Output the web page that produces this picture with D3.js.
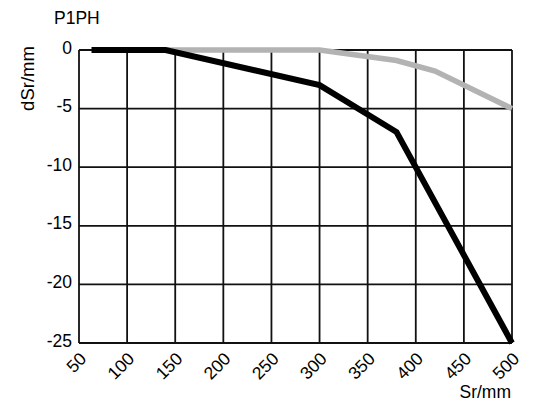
<!DOCTYPE html>
<html>
<head>
<meta charset="utf-8">
<script src="https://cdn.jsdelivr.net/npm/d3@7"></script>
<style>
  body { margin: 0; background: #fff; }
  text { font-family: "Liberation Sans", Arial, sans-serif; }
</style>
</head>
<body>
<div id="chart"></div>
<script>
// values
const xTicks = [50, 100, 150, 200, 250, 300, 350, 400, 450, 500];
const yTicks = [0, -5, -10, -15, -20, -25];
const blackX = [63, 140, 300, 380, 500];
const blackY = [0, 0, -3, -7, -25];
const grayX = [140, 300, 380, 420, 500];
const grayY = [0, 0, -0.9, -1.8, -5];

const W = 538, H = 401;
const margin = {top: 50, right: 26, bottom: 58, left: 79};
const width = W - margin.left - margin.right;
const height = H - margin.top - margin.bottom;

const svg = d3.select("#chart").append("svg")
  .attr("width", W).attr("height", H);
const g = svg.append("g")
  .attr("transform", `translate(${margin.left},${margin.top})`);

const x = d3.scaleLinear().domain([50, 500]).range([0, width]);
const y = d3.scaleLinear().domain([0, -25]).range([0, height]);

// grid
g.append("g").selectAll("line").data(xTicks).enter().append("line")
  .attr("x1", d => x(d)).attr("x2", d => x(d))
  .attr("y1", 0).attr("y2", height)
  .attr("stroke", "#111").attr("stroke-width", 1.8);
g.append("g").selectAll("line").data(yTicks).enter().append("line")
  .attr("x1", 0).attr("x2", width)
  .attr("y1", d => y(d)).attr("y2", d => y(d))
  .attr("stroke", "#111").attr("stroke-width", 1.8);

// tick labels
g.append("g").selectAll("text").data(yTicks).enter().append("text")
  .attr("x", -7).attr("y", d => y(d)).attr("dy", "0.2em")
  .attr("text-anchor", "end")
  .style("font-size", "17.5px")
  .text(d => d);

g.append("g").selectAll("text").data(xTicks).enter().append("text")
  .attr("transform", d => `translate(${x(d) - 1.5},${height + 7}) rotate(-45)`)
  .attr("text-anchor", "end").attr("dy", "0.8em")
  .style("font-size", "17.5px")
  .text(d => d);

// lines
const line = d3.line().x(d => x(d[0])).y(d => y(d[1]));
g.append("path")
  .datum(grayX.map((v, i) => [v, grayY[i]]))
  .attr("fill", "none").attr("stroke", "#b3b3b3")
  .attr("stroke-width", 5.5).attr("d", line);
g.append("path")
  .datum(blackX.map((v, i) => [v, blackY[i]]))
  .attr("fill", "none").attr("stroke", "#000")
  .attr("stroke-width", 6).attr("d", line);

// titles
svg.append("text").attr("x", 54).attr("y", 23.5)
  .style("font-size", "17.5px").text("P1PH");
svg.append("text")
  .attr("transform", `translate(34,78.5) rotate(-90)`)
  .attr("text-anchor", "middle")
  .style("font-size", "18.5px").text("dSr/mm");
svg.append("text").attr("x", 511).attr("y", 398)
  .attr("text-anchor", "end")
  .style("font-size", "17.5px").text("Sr/mm");
</script>
</body>
</html>
